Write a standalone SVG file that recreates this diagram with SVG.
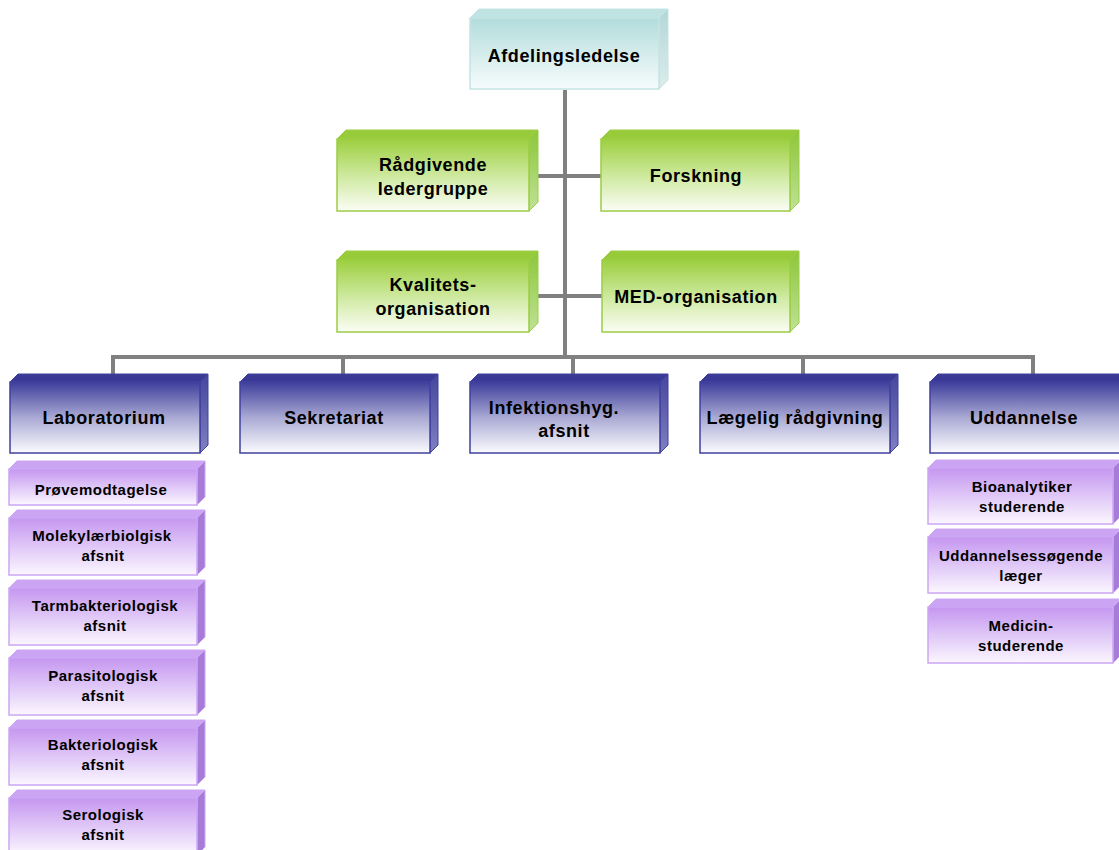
<svg xmlns="http://www.w3.org/2000/svg" width="1119" height="850" viewBox="0 0 1119 850">
<defs>
<linearGradient id="gCyan" x1="0" y1="0" x2="0" y2="1"><stop offset="0" stop-color="#b3dcdc"/><stop offset="1" stop-color="#f6fcfc"/></linearGradient>
<linearGradient id="gGreen" x1="0" y1="0" x2="0" y2="1"><stop offset="0" stop-color="#9ccf3f"/><stop offset="0.55" stop-color="#d2eba6"/><stop offset="1" stop-color="#fbfdf5"/></linearGradient>
<linearGradient id="gBlue" x1="0" y1="0" x2="0" y2="1"><stop offset="0" stop-color="#3e3e9c"/><stop offset="0.5" stop-color="#a9a9d4"/><stop offset="1" stop-color="#fbfbfe"/></linearGradient>
<linearGradient id="gPurple" x1="0" y1="0" x2="0" y2="1"><stop offset="0" stop-color="#c596f0"/><stop offset="0.55" stop-color="#e2ccf8"/><stop offset="1" stop-color="#fbf7fe"/></linearGradient>
<linearGradient id="rCyan" x1="0" y1="0" x2="0" y2="1"><stop offset="0" stop-color="#b4d6d6"/><stop offset="1" stop-color="#dcecec"/></linearGradient>
<linearGradient id="rGreen" x1="0" y1="0" x2="0" y2="1"><stop offset="0" stop-color="#8cc63a"/><stop offset="1" stop-color="#bfe296"/></linearGradient>
<linearGradient id="rBlue" x1="0" y1="0" x2="0" y2="1"><stop offset="0" stop-color="#45459e"/><stop offset="1" stop-color="#8080c2"/></linearGradient>
<style>
.cyan .f{fill:url(#gCyan);stroke:#c4e4e4;stroke-width:1.5}
.cyan .t{fill:#bfe2e2;stroke:#c4e4e4}
.cyan .r{fill:url(#rCyan);stroke:#c4e4e4}
.green .f{fill:url(#gGreen);stroke:#9ccd44;stroke-width:1.5}
.green .t{fill:#98cb3a;stroke:#9ccd44}
.green .r{fill:url(#rGreen);stroke:#9ccd44}
.blue .f{fill:url(#gBlue);stroke:#40409e;stroke-width:1.5}
.blue .t{fill:#3a3a96;stroke:#40409e}
.blue .r{fill:url(#rBlue);stroke:#40409e}
.purple .f{fill:url(#gPurple);stroke:#cba6f4;stroke-width:1.5}
.purple .t{fill:#cba4f3;stroke:#cba6f4}
.purple .r{fill:#a77bd8;stroke:#cba6f4}
text{font-family:"Liberation Sans",Arial,sans-serif;font-weight:bold;fill:#000;text-anchor:middle}
.L{font-size:18px;letter-spacing:0.6px}
.S{font-size:15px;letter-spacing:0.5px}
.conn{stroke:#808080;stroke-width:4;fill:none}
</style>
</defs>
<rect width="1119" height="850" fill="#ffffff"/>
<g id="connectors" class="conn">
<line x1="565" y1="90" x2="565" y2="359"/>
<line x1="529" y1="176" x2="601" y2="176"/>
<line x1="529" y1="296" x2="602" y2="296"/>
<line x1="111" y1="357" x2="1035" y2="357"/>
<line x1="113" y1="357" x2="113" y2="375"/>
<line x1="343" y1="357" x2="343" y2="375"/>
<line x1="573" y1="357" x2="573" y2="375"/>
<line x1="803" y1="357" x2="803" y2="375"/>
<line x1="1033" y1="357" x2="1033" y2="375"/>
</g>
<g id="n-afdelingsledelse" class="cyan">
<polygon class="t" points="470,18 479,9 668,9 659,18"/>
<polygon class="r" points="659,18 668,9 668,80 659,89"/>
<rect class="f" x="470" y="18" width="189" height="71"/>
<text class="L" x="564" y="62">Afdelingsledelse</text>
</g>
<g id="n-raadgivende" class="green">
<polygon class="t" points="337,139 346,130 538,130 529,139"/>
<polygon class="r" points="529,139 538,130 538,202 529,211"/>
<rect class="f" x="337" y="139" width="192" height="72"/>
<text class="L" x="433" y="171">Rådgivende</text>
<text class="L" x="433" y="195">ledergruppe</text>
</g>
<g id="n-forskning" class="green">
<polygon class="t" points="601,139 610,130 799,130 790,139"/>
<polygon class="r" points="790,139 799,130 799,202 790,211"/>
<rect class="f" x="601" y="139" width="189" height="72"/>
<text class="L" x="696" y="182">Forskning</text>
</g>
<g id="n-kvalitet" class="green">
<polygon class="t" points="337,260 346,251 538,251 529,260"/>
<polygon class="r" points="529,260 538,251 538,323 529,332"/>
<rect class="f" x="337" y="260" width="192" height="72"/>
<text class="L" x="433" y="291">Kvalitets-</text>
<text class="L" x="433" y="315">organisation</text>
</g>
<g id="n-med" class="green">
<polygon class="t" points="602,260 611,251 799,251 790,260"/>
<polygon class="r" points="790,260 799,251 799,323 790,332"/>
<rect class="f" x="602" y="260" width="188" height="72"/>
<text class="L" x="696" y="303">MED-organisation</text>
</g>
<g id="n-laboratorium" class="blue">
<polygon class="t" points="10,382 18,374 208,374 200,382"/>
<polygon class="r" points="200,382 208,374 208,445 200,453"/>
<rect class="f" x="10" y="382" width="190" height="71"/>
<text class="L" x="104" y="424">Laboratorium</text>
</g>
<g id="n-sekretariat" class="blue">
<polygon class="t" points="240,382 248,374 438,374 430,382"/>
<polygon class="r" points="430,382 438,374 438,445 430,453"/>
<rect class="f" x="240" y="382" width="190" height="71"/>
<text class="L" x="334" y="424">Sekretariat</text>
</g>
<g id="n-infektion" class="blue">
<polygon class="t" points="470,382 478,374 668,374 660,382"/>
<polygon class="r" points="660,382 668,374 668,445 660,453"/>
<rect class="f" x="470" y="382" width="190" height="71"/>
<text class="L" x="554" y="414">Infektionshyg.</text>
<text class="L" x="564" y="437">afsnit</text>
</g>
<g id="n-laegelig" class="blue">
<polygon class="t" points="700,382 708,374 898,374 890,382"/>
<polygon class="r" points="890,382 898,374 898,445 890,453"/>
<rect class="f" x="700" y="382" width="190" height="71"/>
<text class="L" x="795" y="424">Lægelig rådgivning</text>
</g>
<g id="n-uddannelse" class="blue">
<polygon class="t" points="930,382 938,374 1128,374 1120,382"/>
<polygon class="r" points="1120,382 1128,374 1128,445 1120,453"/>
<rect class="f" x="930" y="382" width="190" height="71"/>
<text class="L" x="1024" y="424">Uddannelse</text>
</g>
<g id="n-proeve" class="purple">
<polygon class="t" points="9,469 17,461 205,461 197,469"/>
<polygon class="r" points="197,469 205,461 205,497 197,505"/>
<rect class="f" x="9" y="469" width="188" height="36"/>
<text class="S" x="101" y="495">Prøvemodtagelse</text>
</g>
<g id="n-molekyl" class="purple">
<polygon class="t" points="9,518 17,510 205,510 197,518"/>
<polygon class="r" points="197,518 205,510 205,567 197,575"/>
<rect class="f" x="9" y="518" width="188" height="57"/>
<text class="S" x="102" y="541">Molekylærbiolgisk</text>
<text class="S" x="103" y="561">afsnit</text>
</g>
<g id="n-tarm" class="purple">
<polygon class="t" points="9,588 17,580 205,580 197,588"/>
<polygon class="r" points="197,588 205,580 205,637 197,645"/>
<rect class="f" x="9" y="588" width="188" height="57"/>
<text class="S" x="105" y="611">Tarmbakteriologisk</text>
<text class="S" x="105" y="631">afsnit</text>
</g>
<g id="n-parasit" class="purple">
<polygon class="t" points="9,658 17,650 205,650 197,658"/>
<polygon class="r" points="197,658 205,650 205,707 197,715"/>
<rect class="f" x="9" y="658" width="188" height="57"/>
<text class="S" x="103" y="681">Parasitologisk</text>
<text class="S" x="103" y="701">afsnit</text>
</g>
<g id="n-bakterio" class="purple">
<polygon class="t" points="9,728 17,720 205,720 197,728"/>
<polygon class="r" points="197,728 205,720 205,777 197,785"/>
<rect class="f" x="9" y="728" width="188" height="57"/>
<text class="S" x="103" y="750">Bakteriologisk</text>
<text class="S" x="103" y="770">afsnit</text>
</g>
<g id="n-serolog" class="purple">
<polygon class="t" points="9,798 17,790 205,790 197,798"/>
<polygon class="r" points="197,798 205,790 205,847 197,855"/>
<rect class="f" x="9" y="798" width="188" height="57"/>
<text class="S" x="103" y="820">Serologisk</text>
<text class="S" x="103" y="840">afsnit</text>
</g>
<g id="n-bioanalytiker" class="purple">
<polygon class="t" points="928,468 936,460 1121,460 1113,468"/>
<polygon class="r" points="1113,468 1121,460 1121,516 1113,524"/>
<rect class="f" x="928" y="468" width="185" height="56"/>
<text class="S" x="1022" y="492">Bioanalytiker</text>
<text class="S" x="1022" y="512">studerende</text>
</g>
<g id="n-uddsoegende" class="purple">
<polygon class="t" points="928,537 936,529 1121,529 1113,537"/>
<polygon class="r" points="1113,537 1121,529 1121,585 1113,593"/>
<rect class="f" x="928" y="537" width="185" height="56"/>
<text class="S" x="1021" y="561">Uddannelsessøgende</text>
<text class="S" x="1021" y="581">læger</text>
</g>
<g id="n-medicin" class="purple">
<polygon class="t" points="928,607 936,599 1121,599 1113,607"/>
<polygon class="r" points="1113,607 1121,599 1121,655 1113,663"/>
<rect class="f" x="928" y="607" width="185" height="56"/>
<text class="S" x="1021" y="631">Medicin-</text>
<text class="S" x="1021" y="651">studerende</text>
</g>
</svg>
